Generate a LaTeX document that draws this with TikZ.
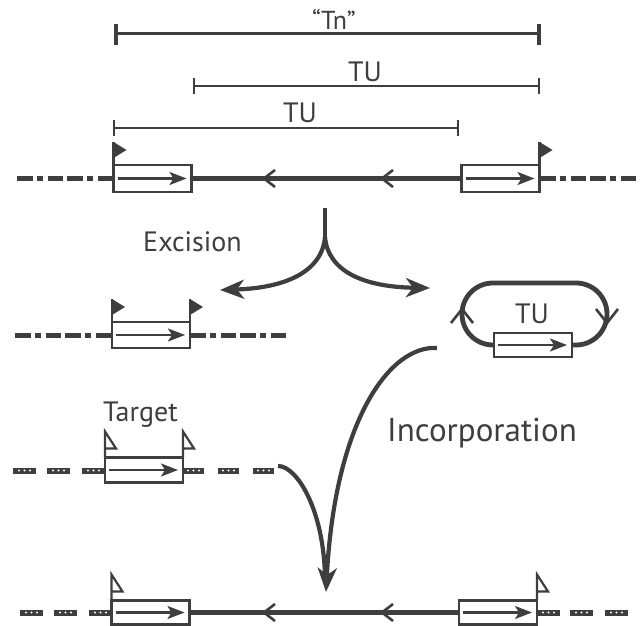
\documentclass[tikz,border=0pt]{standalone}
\usepackage{fontspec}
\setmainfont{PT Sans}
\usetikzlibrary{arrows.meta}
\definecolor{ink}{RGB}{62,62,62}
\begin{document}
\begin{tikzpicture}[x=1pt,y=-1pt,
  gene/.style={draw=ink, line width=2.2pt, fill=white, minimum width=78pt, minimum height=26pt, inner sep=0pt, outer sep=0pt},
  inarrow/.style={draw=ink, line width=2.2pt, shorten <=4pt, shorten >=5pt, -{Stealth[length=17pt,width=13pt,inset=4pt]}},
  chrom/.style={draw=ink, line width=4.8pt},
  dashdot/.style={draw=ink, line width=5pt, dash pattern=on 16pt off 4pt on 6pt off 5pt on 15pt off 4pt},
  chev/.style={draw=ink, line width=2.6pt},
  brk/.style={draw=ink, line width=2.4pt},
  lbl/.style={text=ink, inner sep=0pt},
  bendline/.style={draw=ink, line width=4.2pt},
  bigtip/.style={-{Stealth[length=24pt,width=19pt,inset=7pt]}},
  flagf/.pic={\draw[ink,line width=2.2pt] (0,0) -- (0,-23);
              \fill[ink] (0,-23) -- (13,-15) -- (0,-7) -- cycle;},
  flago/.pic={\draw[ink,line width=2.2pt,line join=miter] (0,0) -- (0,-26) -- (11,-9) -- (0,-9);}
]
\useasboundingbox (0,0) rectangle (643,626);

% ---------- brackets ----------
\coordinate (tnL) at (116,34); \coordinate (tnR) at (539,34);
\draw[brk, line width=3pt] (tnL) -- (tnR);
\draw[ink, line width=4pt] ([yshift=10pt]tnL) -- ([yshift=-11pt]tnL);
\draw[ink, line width=4pt] ([yshift=10pt]tnR) -- ([yshift=-11pt]tnR);
\node[lbl, font=\fontsize{26}{30}\selectfont] (tn) at (334,19) {“Tn”};

\coordinate (t1L) at (194,86); \coordinate (t1R) at (539,86);
\draw[brk] (t1L) -- (t1R);
\draw[brk] ([yshift=8pt]t1L) -- ([yshift=-8pt]t1L);
\draw[brk] ([yshift=8pt]t1R) -- ([yshift=-8pt]t1R);
\node[lbl, font=\fontsize{28}{30}\selectfont] (tu1) at (365,72) {TU};

\coordinate (t2L) at (114,128); \coordinate (t2R) at (458,128);
\draw[brk] (t2L) -- (t2R);
\draw[brk] ([yshift=8pt]t2L) -- ([yshift=-8pt]t2L);
\draw[brk] ([yshift=8pt]t2R) -- ([yshift=-8pt]t2R);
\node[lbl, font=\fontsize{28}{30}\selectfont] (tu2) at (300,113) {TU};

% ---------- row 1 ----------
\coordinate (r1a) at (17,178.5); \coordinate (r1b) at (637,178.5);
\node[gene, minimum height=27pt] (b1) at (152.5,178.5) {};
\node[gene, minimum height=27pt] (b2) at (500.5,178.5) {};
\draw[dashdot] (r1a) -- (b1.west);
\draw[dashdot] (b2.east) -- (r1b);
\draw[chrom] (b1.east) -- (b2.west);
\draw[inarrow] (b1.west) -- (b1.east);
\draw[inarrow] (b2.west) -- (b2.east);
\pic at (b1.north west) {flagf};
\pic at (b2.north east) {flagf};
\foreach \cx in {264,382}{
  \draw[chev] (\cx+11,170) -- (\cx,178.5) -- (\cx+11,187);
}

% ---------- excision ----------
\coordinate (stem) at (325,208);
\coordinate (split) at (325,237);
\coordinate (exL) at (220,290);
\coordinate (exR) at (430,288);
\draw[bendline] (stem) -- (split);
\draw[bendline, bigtip] (split) .. controls (322,272) and (285,288) .. (exL);
\draw[bendline, bigtip] (split) .. controls (328,272) and (365,287) .. (exR);
\node[lbl, font=\fontsize{28}{30}\selectfont] (exc) at (192.5,242) {Excision};

% ---------- row 2 ----------
\coordinate (r2a) at (15,335); \coordinate (r2b) at (288,335);
\node[gene] (b3) at (151,335) {};
\draw[dashdot] (r2a) -- (b3.west);
\draw[dashdot] (b3.east) -- (r2b);
\draw[inarrow] (b3.west) -- (b3.east);
\pic at (b3.north west) {flagf};
\pic at (b3.north east) {flagf};

% ---------- circle ----------
\coordinate (lpR) at (576,345);
\coordinate (lpL) at (493,283);
\draw[chrom, line join=round] (533,345) -- (lpR) arc[start angle=90, end angle=-90, radius=31]
   -- (lpL) arc[start angle=270, end angle=90, radius=31] -- (533,345);
\node[gene, minimum height=24pt] (b4) at (533,345) {};
\draw[inarrow] (b4.west) -- (b4.east);
\draw[chev] (451,323) -- (462,309) -- (473,323);
\draw[chev] (596,309) -- (607,323) -- (618,309);
\node[lbl, font=\fontsize{28}{30}\selectfont] (tu3) at (532,314) {TU};

% ---------- row 3 (target) ----------
\foreach \sx in {13,47,82}{
  \fill[ink] (\sx,467.5) rectangle ++(23,6);
  \foreach \d in {6,11.5,17}{\fill[white] (\sx+\d,470.5) circle[radius=1.2pt];}
}
\foreach \sx in {183,218,253}{
  \fill[ink] (\sx,467.5) rectangle ++(21,6);
  \foreach \d in {5,10.5,16}{\fill[white] (\sx+\d,470.5) circle[radius=1.2pt];}
}
\node[gene, minimum height=25pt] (b5) at (144,470) {};
\draw[inarrow] (b5.west) -- (b5.east);
\pic at (b5.north west) {flago};
\pic at (b5.north east) {flago};
\node[lbl, font=\fontsize{28}{30}\selectfont, anchor=base] (tgt) at (140.5,421) {Target};

% ---------- incorporation ----------
\coordinate (tgtEnd) at (278,466);
\coordinate (incS) at (437,348);
\coordinate (merge) at (325,578);
\coordinate (tip) at (326,592);
\draw[bendline] (tgtEnd) .. controls (297,466) and (324,510) .. (merge);
\draw[bendline, bigtip] (incS) .. controls (390,345) and (335,420) .. (tip);
\node[lbl, font=\fontsize{33}{36}\selectfont, anchor=base] (inc) at (482,441) {Incorporation};

% ---------- row 4 ----------
\foreach \sx in {20,54,89}{
  \fill[ink] (\sx,609.5) rectangle ++(23,6);
  \foreach \d in {6,11.5,17}{\fill[white] (\sx+\d,612.5) circle[radius=1.2pt];}
}
\foreach \sx in {537,570,605}{
  \fill[ink] (\sx,609.5) rectangle ++(23,6);
  \foreach \d in {6,11.5,17}{\fill[white] (\sx+\d,612.5) circle[radius=1.2pt];}
}
\node[gene, minimum height=24pt] (b6) at (150.5,612.5) {};
\node[gene, minimum height=24pt] (b7) at (498,612.5) {};
\draw[chrom] (b6.east) -- (b7.west);
\draw[inarrow] (b6.west) -- (b6.east);
\draw[inarrow] (b7.west) -- (b7.east);
\pic at (b6.north west) {flago};
\pic at (b7.north east) {flago};
\foreach \cx in {264,382}{
  \draw[chev] (\cx+11,604) -- (\cx,612.5) -- (\cx+11,621);
}
\end{tikzpicture}
\end{document}
